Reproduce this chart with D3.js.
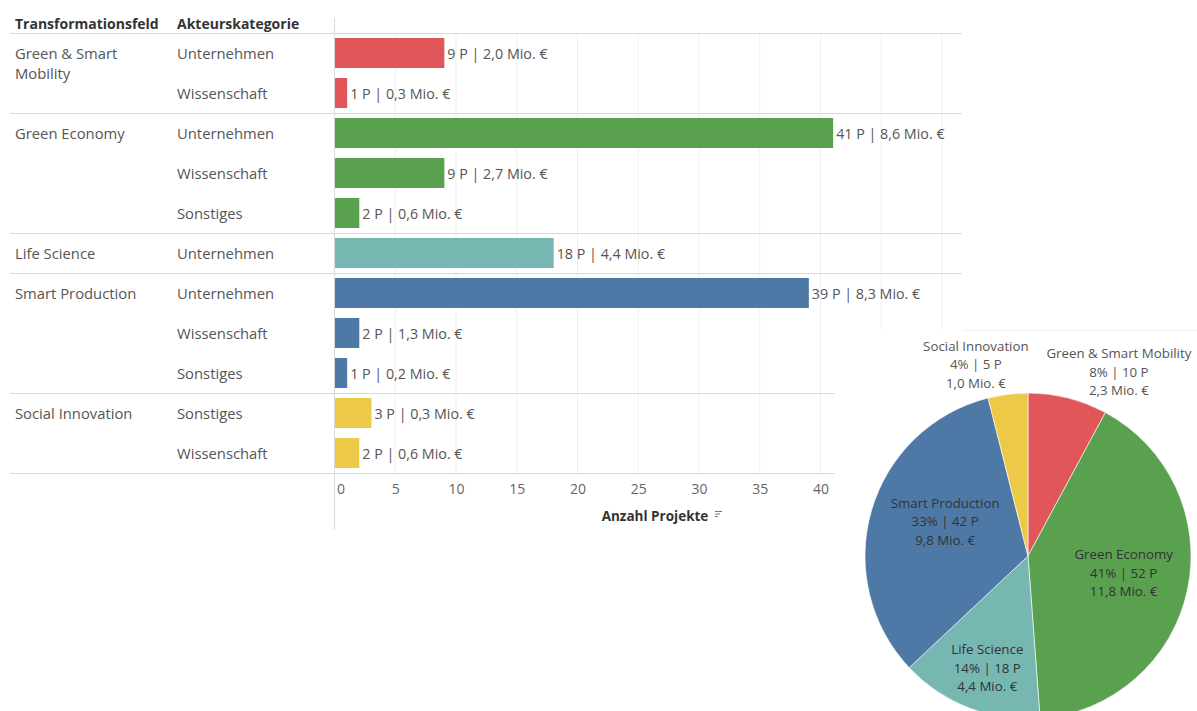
<!DOCTYPE html>
<html><head><meta charset="utf-8">
<script src="https://cdn.jsdelivr.net/npm/d3@7"></script>
<style>
html,body{margin:0;padding:0;background:#fff;}
svg{display:block;font-family:"Open Sans",sans-serif;}
</style></head>
<body><svg id="c" width="1197" height="711"></svg>
<script>
// ---- data ----
const rowGroups = ["Green & Smart Mobility","Green & Smart Mobility","Green Economy","Green Economy","Green Economy","Life Science","Smart Production","Smart Production","Smart Production","Social Innovation","Social Innovation"];
const rowCategories = ["Unternehmen","Wissenschaft","Unternehmen","Wissenschaft","Sonstiges","Unternehmen","Unternehmen","Wissenschaft","Sonstiges","Sonstiges","Wissenschaft"];
const rowProjects = [9,1,41,9,2,18,39,2,1,3,2];
const rowFunding = ["2,0","0,3","8,6","2,7","0,6","4,4","8,3","1,3","0,2","0,3","0,6"];
const xTicks = [0,5,10,15,20,25,30,35,40];
const pieFields = ["Green & Smart Mobility","Green Economy","Life Science","Smart Production","Social Innovation"];
const pieProjects = [10,52,18,42,5];
const pieFunding = ["2,3","11,8","4,4","9,8","1,0"];
const fieldColors = ["#E15759","#59A14F","#76B7B2","#4E79A7","#EDC948"];

// ---- layout ----
const svg = d3.select("#c");
const color = d3.scaleOrdinal().domain(pieFields).range(fieldColors);
const x = d3.scaleLinear().domain([0,40]).range([334.5,820.5]);
const y = d3.scaleBand().domain(d3.range(rowProjects.length)).range([33,473]).paddingInner(0.25).paddingOuter(0.125);
const lineRight = 962, lineLeft = 10;
const gap = (y.step()-y.bandwidth())/2;

// gridlines
const gridVals = d3.range(5, 55, 5).filter(v => x(v) < lineRight);
svg.append("g").selectAll("line").data(gridVals).join("line")
  .attr("x1", d=>x(d)).attr("x2", d=>x(d)).attr("y1",33).attr("y2",473)
  .attr("stroke","#efefef").attr("stroke-width",1);

// separators (group boundaries)
const bounds = [y(0)-gap];
rowGroups.forEach((g,i)=>{ if(i===rowGroups.length-1 || rowGroups[i+1]!==g) bounds.push(y(i)+y.bandwidth()+gap); });
svg.append("g").selectAll("line").data(bounds).join("line")
  .attr("x1",lineLeft).attr("x2",lineRight).attr("y1",d=>Math.round(d)+0.5).attr("y2",d=>Math.round(d)+0.5)
  .attr("stroke","#d9d9d9").attr("stroke-width",1);

// axis line
svg.append("line").attr("x1",x(0)).attr("x2",x(0)).attr("y1",18).attr("y2",530)
  .attr("stroke","#d9d9d9").attr("stroke-width",1);

// headers
svg.append("text").attr("x",15).attr("y",29).text("Transformationsfeld")
  .attr("font-weight","bold").attr("font-size",14).attr("fill","#333");
svg.append("text").attr("x",177).attr("y",29).text("Akteurskategorie")
  .attr("font-weight","bold").attr("font-size",14).attr("fill","#333");

// group labels (first row of each group), wrapped
const groupStarts = rowGroups.map((g,i)=> (i===0 || rowGroups[i-1]!==g) ? i : -1).filter(i=>i>=0);
groupStarts.forEach(i=>{
  const t = svg.append("text").attr("x",15).attr("y",y(i)+y.bandwidth()/2+5.5)
    .attr("font-size",14.8).attr("fill","#555");
  const words = rowGroups[i].split(" ");
  let line = [], tspan = t.append("tspan").attr("x",15);
  words.forEach(w=>{
    line.push(w); tspan.text(line.join(" "));
    if (tspan.node().getComputedTextLength() > 140 && line.length>1){
      line.pop(); tspan.text(line.join(" ")); line=[w];
      tspan = t.append("tspan").attr("x",15).attr("dy",20.5).text(w);
    }
  });
});
// category labels
svg.append("g").selectAll("text").data(rowCategories).join("text")
  .attr("x",177).attr("y",(d,i)=>y(i)+y.bandwidth()/2+5.5)
  .attr("font-size",14.8).attr("fill","#555").text(d=>d);

// bars
svg.append("g").selectAll("rect").data(rowProjects).join("rect")
  .attr("x",x(0)+0.5).attr("y",(d,i)=>y(i)).attr("height",y.bandwidth())
  .attr("width",d=>x(d)-x(0)).attr("fill",(d,i)=>color(rowGroups[i]));
svg.append("g").selectAll("text").data(rowProjects).join("text")
  .attr("x",d=>x(d)+3.5).attr("y",(d,i)=>y(i)+y.bandwidth()/2+5.5)
  .attr("font-size",14.3).attr("fill","#555")
  .text((d,i)=>`${d} P | ${rowFunding[i]} Mio. €`);

// x axis labels
const ax = svg.append("g").attr("transform","translate(0,473)")
  .call(d3.axisBottom(x).tickValues(xTicks).tickSize(0).tickPadding(11));
ax.select(".domain").remove();
ax.selectAll("text").attr("font-size",14).attr("fill","#666").attr("font-family","Open Sans, sans-serif");
ax.selectAll(".tick").filter(d=>d===0).select("text").attr("text-anchor","start").attr("dx",2);
svg.append("text").attr("x",655).attr("y",521).attr("text-anchor","middle")
  .attr("font-weight","bold").attr("font-size",13.5).attr("fill","#333").text("Anzahl Projekte");
// sort icon
[[0,7],[2.5,5],[5,3]].forEach(([dy,w])=>svg.append("line").attr("x1",715).attr("x2",715+w)
  .attr("y1",511.5+dy).attr("y2",511.5+dy).attr("stroke","#777").attr("stroke-width",1));

// pie panel (overlaying)
svg.append("rect").attr("x",835).attr("y",330).attr("width",362).attr("height",381).attr("fill","#fff");
svg.append("line").attr("x1",963).attr("x2",1197).attr("y1",330.5).attr("y2",330.5).attr("stroke","#f0f0f0");

const cx = 1028, cy = 556, r = 163;
const pie = d3.pie().sort(null).value(d=>d)(pieProjects);
const arc = d3.arc().innerRadius(0).outerRadius(r);
const pg = svg.append("g").attr("transform",`translate(${cx},${cy})`);
pg.selectAll("path").data(pie).join("path").attr("d",arc)
  .attr("fill",(d,i)=>color(pieFields[i])).attr("stroke","#fff").attr("stroke-width",0.6);

const total = d3.sum(pieProjects);
// label placement: radius factor + nudge
const labelPos = [{f:1.2,dx:43,dy:6,out:true},{f:0.6,dx:0,dy:-3},{f:0.74,dx:3,dy:0},{f:0.6,dx:11,dy:-7},{f:1.2,dx:-28,dy:3,out:true}];
pie.forEach((p,i)=>{
  const a = (p.startAngle+p.endAngle)/2, lp = labelPos[i];
  const lx = Math.sin(a)*r*lp.f + lp.dx, ly = -Math.cos(a)*r*lp.f + lp.dy;
  const t = pg.append("text").attr("text-anchor","middle").attr("font-size",13.3)
    .attr("fill", lp.out ? "#555" : "#333");
  const lines = [pieFields[i], `${Math.round(pieProjects[i]/total*100)}% | ${pieProjects[i]} P`, `${pieFunding[i]} Mio. €`];
  lines.forEach((s,k)=>t.append("tspan").attr("x",lx).attr("y",ly+(k-1)*18.5+4.5).text(s));
});
</script></body></html>
